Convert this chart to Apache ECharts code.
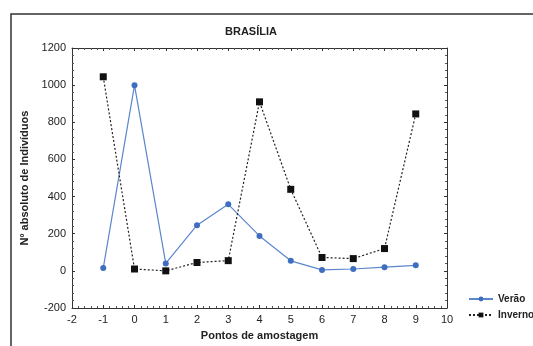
<!DOCTYPE html>
<html><head><meta charset="utf-8">
<script src="https://cdn.jsdelivr.net/npm/echarts@6/dist/echarts.min.js"></script>
<style>html,body{margin:0;padding:0;background:#fff}#c{width:533px;height:346px}</style>
</head><body><div id="c"></div>
<script>
const points = [-1, 0, 1, 2, 3, 4, 5, 6, 7, 8, 9];
const verao = [15, 1000, 40, 246, 358, 188, 54, 5, 10, 20, 30];
const inverno = [1045, 10, 0, 45, 55, 910, 439, 72, 66, 120, 845];
const titleText = 'BRASÍLIA';
const xName = 'Pontos de amostagem';
const yName = 'Nº absoluto de Indivíduos';

const chart = echarts.init(document.getElementById('c'), null, {renderer: 'canvas'});
const font = 'Liberation Sans, Arial, sans-serif';
const baseAxis = {
  axisLine: {show: true, onZero: false, lineStyle: {color: '#333', width: 1}},
  axisTick: {show: true, inside: true, length: 3, lineStyle: {color: '#333'}},
  minorTick: {show: true, splitNumber: 5, length: 2, lineStyle: {color: '#555'}},
  splitLine: {show: false},
  axisLabel: {color: '#222', fontFamily: font, fontSize: 11, formatter: v => String(v)}
};
chart.setOption({
  animation: false,
  backgroundColor: '#fff',
  title: {text: titleText, left: 246, top: 21, textAlign: 'center',
    textStyle: {fontFamily: font, fontSize: 11, fontWeight: 'bold', color: '#222'}},
  grid: {left: 72, right: 86, top: 48, bottom: 38},
  xAxis: [
    Object.assign({}, baseAxis, {type: 'value', min: -2, max: 10, interval: 1,
      name: xName, nameLocation: 'middle', nameGap: 22,
      nameTextStyle: {fontFamily: font, fontSize: 11, fontWeight: 'bold', color: '#222'},
      axisLabel: Object.assign({}, baseAxis.axisLabel, {margin: 6})}),
    Object.assign({}, baseAxis, {type: 'value', min: -2, max: 10, interval: 1, position: 'top',
      axisLabel: {show: false}})
  ],
  yAxis: [
    Object.assign({}, baseAxis, {type: 'value', min: -200, max: 1200, interval: 200,
      name: yName, nameLocation: 'middle', nameGap: 40,
      nameTextStyle: {fontFamily: font, fontSize: 11, fontWeight: 'bold', color: '#222'},
      axisLabel: Object.assign({}, baseAxis.axisLabel, {margin: 6})}),
    Object.assign({}, baseAxis, {type: 'value', min: -200, max: 1200, interval: 200, position: 'right',
      axisLabel: {show: false}})
  ],
  legend: {
    orient: 'vertical', left: 463, top: 289, itemGap: 6, itemWidth: 24, itemHeight: 6,
    textStyle: {fontFamily: font, fontSize: 10, fontWeight: 'bold', color: '#222'},
    data: ['Verão', 'Inverno']
  },
  series: [
    {name: 'Verão', type: 'line', data: points.map((p, i) => [p, verao[i]]),
      symbol: 'circle', symbolSize: 6, color: '#3f6ec0',
      lineStyle: {color: '#5a86cc', width: 1.2}, itemStyle: {color: '#3f6ec0'}},
    {name: 'Inverno', type: 'line', data: points.map((p, i) => [p, inverno[i]]),
      symbol: 'rect', symbolSize: 7, color: '#111',
      lineStyle: {color: '#222', width: 1.2, type: [2, 2]}, itemStyle: {color: '#111'}}
  ],
  graphic: [
    {type: 'polyline', shape: {points: [[11, 346], [11, 14], [533, 14]]},
      style: {stroke: '#333', lineWidth: 1.5, fill: null}}
  ]
});
</script></body></html>
